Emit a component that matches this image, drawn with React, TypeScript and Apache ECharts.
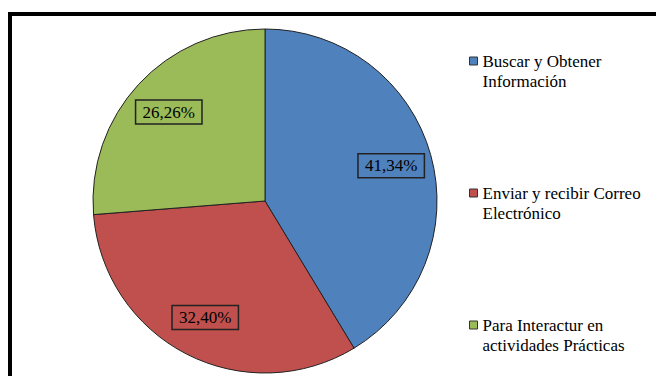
import React, { useEffect, useRef } from "react";
import * as echarts from "echarts";

const categories = [
  "Buscar y Obtener\nInformación",
  "Enviar y recibir Correo\nElectrónico",
  "Para Interactur en\nactividades Prácticas",
];
const values = [41.34, 32.4, 26.26];
const labels = ["41,34%", "32,40%", "26,26%"];
const colors = ["#4F81BD", "#C0504D", "#9BBB59"];

const SERIF = "Liberation Serif";

export default function App() {
  const ref = useRef<HTMLDivElement>(null);
  useEffect(() => {
    if (!ref.current) return;
    const chart = echarts.init(ref.current, undefined, { renderer: "svg" });
    const data = categories.map((name, i) => ({ name, value: values[i] }));
    chart.setOption({
      animation: false,
      backgroundColor: "#ffffff",
      color: colors,
      textStyle: { fontFamily: SERIF },
      graphic: [
        {
          type: "polyline",
          shape: { points: [[10, 400], [10, 14], [700, 14]] },
          style: { stroke: "#000", lineWidth: 4, fill: "none" },
          z: 10,
        },
      ],
      legend: {
        orient: "vertical",
        left: 464,
        top: 26,
        itemWidth: 8,
        itemHeight: 8,
        itemGap: 72,
        icon: "rect",
        selectedMode: false,
        data: categories,
        formatter: (name: string) => "\n" + name,
        itemStyle: { borderColor: "#333", borderWidth: 1 },
        textStyle: {
          fontFamily: SERIF,
          fontSize: 17,
          lineHeight: 20,
          color: "#000",
        },
      },
      series: [
        {
          type: "pie",
          center: [265, 201],
          radius: [0, 172],
          startAngle: 90,
          clockwise: true,
          data,
          label: { show: false },
          labelLine: { show: false },
          silent: true,
          itemStyle: { borderColor: "#222", borderWidth: 1 },
        },
        {
          type: "pie",
          center: [265, 201],
          radius: [84, 172],
          startAngle: 90,
          clockwise: true,
          silent: true,
          data: data.map((d, i) => ({
            ...d,
            itemStyle: { color: "rgba(0,0,0,0)", borderWidth: 0 },
            label: { formatter: labels[i], fontFamily: SERIF },
          })),
          label: {
            show: true,
            position: "inside",
            fontFamily: SERIF,
            fontSize: 17,
            color: "#000",
            borderColor: "#222",
            borderWidth: 1.5,
            padding: [4, 7, 3, 7],
          },
          labelLine: { show: false },
        },
      ],
    });
    return () => chart.dispose();
  }, []);
  return (
    <div
      ref={ref}
      style={{ position: "fixed", left: 0, top: 0, width: 656, height: 376 }}
    />
  );
}
